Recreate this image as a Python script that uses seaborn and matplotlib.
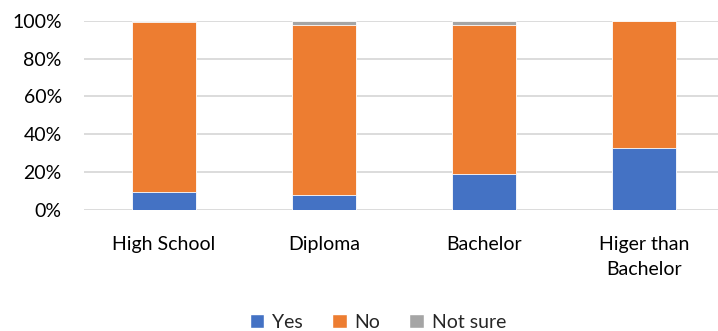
import pandas as pd
import numpy as np
import matplotlib.pyplot as plt
import seaborn as sns
from matplotlib.patches import Patch

# Share of answers per education level (percent)
levels = ['High School', 'Diploma', 'Bachelor', 'Higer than\nBachelor']
yes = [9.5, 8.1, 18.9, 32.6]
no = [89.6, 89.8, 79.0, 67.4]
not_sure = [0.9, 2.1, 2.1, 0.0]

df = pd.DataFrame({'level': levels, 'Yes': yes, 'No': no, 'Not sure': not_sure})
df['cum_yes'] = df['Yes'] / 100
df['cum_no'] = (df['Yes'] + df['No']) / 100
df['cum_all'] = (df['Yes'] + df['No'] + df['Not sure']) / 100

colors = {'Yes': '#4472C4', 'No': '#ED7D31', 'Not sure': '#A5A5A5'}

sns.set_style('white')
plt.rcParams['font.family'] = ['Lato', 'DejaVu Sans']

fig = plt.figure(figsize=(7.18, 3.31), dpi=100)
ax = fig.add_axes([84 / 718, 121 / 331, 640 / 718, 189.3 / 331])

# stacked bars: draw cumulative totals from the top down
for col, key in [('cum_all', 'Not sure'), ('cum_no', 'No'), ('cum_yes', 'Yes')]:
    sns.barplot(data=df, x='level', y=col, color=colors[key], width=0.406,
                saturation=1, edgecolor='white', linewidth=0.6, ax=ax, zorder=3)

ax.set_ylim(0, 1)
ax.set_xlim(-0.5, 3.5)
ax.set_yticks(np.arange(0, 1.01, 0.2))
ax.set_yticklabels([f'{int(round(v * 100))}%' for v in np.arange(0, 1.01, 0.2)])
ax.yaxis.grid(True, color='#d9d9d9', linewidth=1.3, zorder=0)
ax.set_axisbelow(True)
for s in ax.spines.values():
    s.set_visible(False)
ax.set_xlabel('')
ax.set_ylabel('')
ax.tick_params(axis='y', length=0, pad=16, labelsize=14, colors='#000000')
ax.tick_params(axis='x', length=0, pad=19, labelsize=14, colors='#000000')
for t in ax.get_xticklabels():
    t.set_linespacing(1.55)
    t.set_verticalalignment('top')

handles = [Patch(facecolor=colors[k], label=k) for k in ['Yes', 'No', 'Not sure']]
fig.legend(handles=handles, loc='center', bbox_to_anchor=(378 / 718, 9 / 331),
           ncol=3, frameon=False, fontsize=14, handlelength=0.75, handleheight=0.75,
           handletextpad=0.4, columnspacing=1.5)

fig.savefig('out.png', dpi=100)
